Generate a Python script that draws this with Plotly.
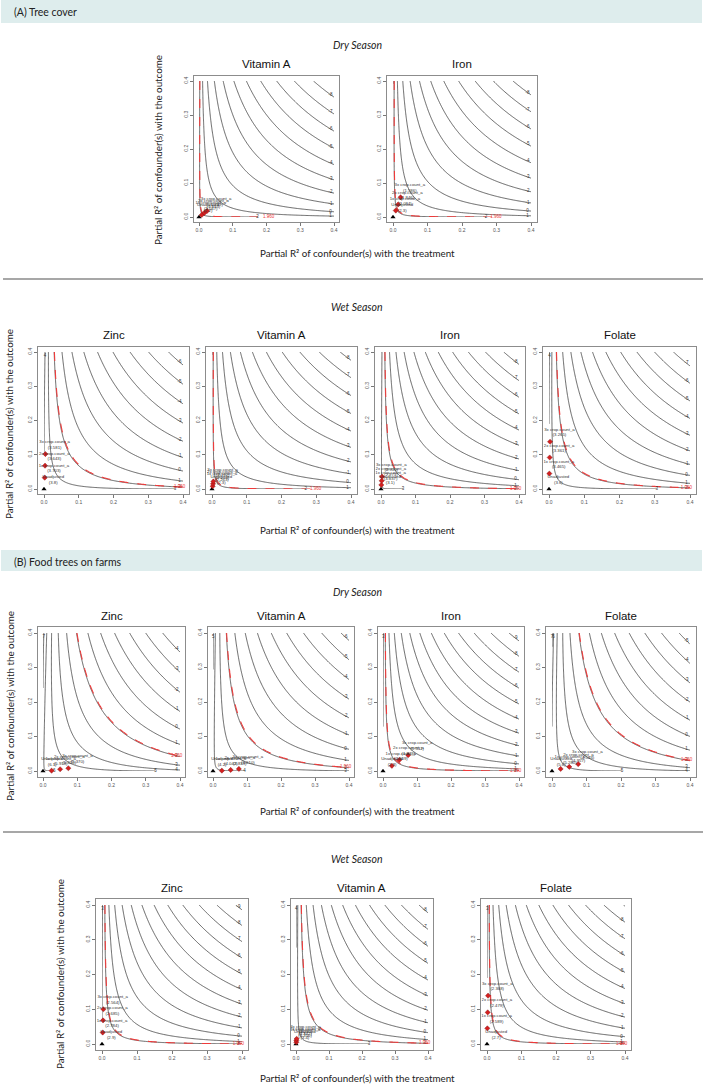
import numpy as np
import plotly.graph_objects as go

W, H = 706, 1087

# ---- data ----
titles = ["Vitamin A", "Iron",
          "Zinc", "Vitamin A", "Iron", "Folate",
          "Zinc", "Vitamin A", "Iron", "Folate",
          "Zinc", "Vitamin A", "Folate"]
# unadjusted t-value and residual degrees of freedom of each model
t_unadj = [2.2, 2.34, 3.8, 2.34, 3.1, 3.6, 6.1, 4.2, 2.8, 5.6, 2.9, 3.4, 2.7]
dof = [470, 470, 413, 440, 530, 490, 460, 421, 570, 470, 560, 530, 520]
unadj_text = ["2.2", "2.3", "3.8", "2.3", "3.1", "3.6", "6.1", "4.2", "2.8", "5.6", "2.9", "3.4", "2.7"]
t_threshold = 1.96

bound_names = ["1x crop.count_a", "2x crop.count_a", "3x crop.count_a"]
bound_r2dz = [[0.008, 0.016, 0.024], [0.008, 0.015, 0.022],
              [0.002, 0.003, 0.004], [0.002, 0.003, 0.004], [0.001, 0.002, 0.003], [0.001, 0.002, 0.003],
              [0.025, 0.05, 0.074], [0.026, 0.052, 0.076], [0.026, 0.048, 0.074], [0.025, 0.05, 0.076],
              [0.002, 0.003, 0.004], [0.001, 0.001, 0.002], [0.001, 0.002, 0.003]]
bound_r2yz = [[0.006, 0.012, 0.018], [0.019, 0.037, 0.058],
              [0.033, 0.068, 0.102], [0.008, 0.015, 0.022], [0.012, 0.024, 0.036], [0.045, 0.092, 0.138],
              [0.001, 0.005, 0.008], [0.001, 0.003, 0.006], [0.015, 0.032, 0.046], [0.006, 0.012, 0.02],
              [0.033, 0.068, 0.1], [0.005, 0.01, 0.015], [0.045, 0.091, 0.139]]
bound_t = [["2.047", "1.893", "1.739"], ["2.084", "1.846", "1.586"],
           ["3.703", "3.643", "3.581"], ["2.263", "2.213", "2.162"], ["3.037", "2.973", "2.910"],
           ["3.465", "3.361", "3.265"],
           ["5.918", "5.620", "5.370"], ["4.042", "3.839", "3.610"], ["2.309", "1.823", "1.331"],
           ["5.280", "4.957", "4.584"],
           ["2.784", "2.685", "2.564"], ["3.356", "3.342", "3.295"], ["2.589", "2.479", "2.368"]]
tick_vals = [0, 0.1, 0.2, 0.3, 0.4]
tick_text = ["0.0", "0.1", "0.2", "0.3", "0.4"]

# ---- layout: pixel position of r2=0 and r2=0.4 on each panel (x0, x04, y0, y04) ----
panel_px = [(199, 334, 217, 81), (393, 531, 217, 81),
            (44, 183, 489, 352), (212, 351, 489, 352), (381, 519, 489, 352), (549, 690, 489, 352),
            (43, 180, 771, 633), (213, 349, 771, 633), (383, 519, 771, 633), (552, 690, 771, 633),
            (102, 242, 1044, 905), (296, 428, 1044, 905), (487, 625, 1044, 905)]

LIM = 0.4
PAD = 0.016
BUMP = LIM / 15
grid = np.unique(np.concatenate([np.linspace(0, 0.02, 41), np.linspace(0.02, 0.4, 153)]))


def t_adj(t0, df, r2dz, r2yz):
    bias = np.sqrt(df * r2yz * r2dz / (1 - r2dz))
    return (t0 - bias) / np.sqrt((1 - r2yz) / (1 - r2dz))


def level_end(t0, df, level):
    s = np.linspace(0, 0.4, 801)
    edges = [(np.full_like(s, 0.39), s), (s, np.zeros_like(s)), (s, np.full_like(s, 0.39))]
    for ex, ey in edges:
        d = t_adj(t0, df, ex, ey) - level
        idx = np.where(np.sign(d[:-1]) != np.sign(d[1:]))[0]
        if len(idx):
            i = idx[-1]
            f = d[i] / (d[i] - d[i + 1])
            return ex[i] + f * (ex[i + 1] - ex[i]), ey[i] + f * (ey[i + 1] - ey[i])
    return None


def note(text, px, py, size, family="Lato", angle=0, xanchor="center", color="#222"):
    return dict(text=text, x=px / W, y=1 - py / H, xref="paper", yref="paper", showarrow=False,
                xanchor=xanchor, yanchor="middle", textangle=angle,
                font=dict(family=family, size=size, color=color))


fig = go.Figure()
layout = dict(width=W, height=H, margin=dict(l=0, r=0, t=0, b=0),
              paper_bgcolor="white", plot_bgcolor="white", showlegend=False)
annotations = []
shapes = []

for i, (x0, x04, y0, y04) in enumerate(panel_px):
    k = i + 1
    xa, ya = f"x{k}", f"y{k}"
    t0, df = t_unadj[i], dof[i]
    X, Y = np.meshgrid(grid, grid)
    z = np.round(t_adj(t0, df, X, Y), 3)

    fig.add_trace(go.Contour(x=grid, y=grid, z=z, xaxis=xa, yaxis=ya, showscale=False,
                             autocontour=False,
                             contours=dict(coloring="lines", start=-30, end=30, size=1),
                             colorscale=[[0, "#3c3c3c"], [1, "#3c3c3c"]],
                             line=dict(width=0.8), hoverinfo="skip"))
    fig.add_trace(go.Contour(x=grid, y=grid, z=z, xaxis=xa, yaxis=ya, showscale=False,
                             autocontour=False,
                             contours=dict(coloring="lines", start=t_threshold, end=t_threshold + 0.5, size=1),
                             colorscale=[[0, "#ee3b3b"], [1, "#ee3b3b"]],
                             line=dict(width=1.1, dash="dash"), hoverinfo="skip"))

    # contour labels at the line ends
    lx, ly, lt = [], [], []
    for lev in range(int(np.floor(z.min())), int(np.ceil(z.max())) + 1):
        p = level_end(t0, df, lev)
        if p:
            lx.append(p[0]); ly.append(p[1]); lt.append(str(lev))
    fig.add_trace(go.Scatter(x=lx, y=ly, text=lt, mode="text", xaxis=xa, yaxis=ya,
                             textfont=dict(size=4.5, color="#333", family="Liberation Sans"),
                             hoverinfo="skip"))
    p = level_end(t0, df, t_threshold)
    if p:
        fig.add_trace(go.Scatter(x=[p[0]], y=[p[1]], text=[f"{t_threshold:.3f}"], mode="text",
                                 xaxis=xa, yaxis=ya,
                                 textfont=dict(size=4.5, color="#ee3b3b", family="Liberation Sans"),
                                 hoverinfo="skip"))

    # unadjusted point and bounds
    fig.add_trace(go.Scatter(x=[0], y=[0], mode="markers", xaxis=xa, yaxis=ya,
                             marker=dict(symbol="triangle-up", size=4.5, color="black"), hoverinfo="skip"))
    fig.add_trace(go.Scatter(x=bound_r2dz[i], y=bound_r2yz[i], mode="markers", xaxis=xa, yaxis=ya,
                             marker=dict(symbol="diamond", size=4, color="#d42020",
                                         line=dict(color="#7a1010", width=0.4)),
                             hoverinfo="skip"))
    txt_x = [0 + BUMP] + [v + BUMP for v in bound_r2dz[i]]
    txt_y = [0 + BUMP] + [v + BUMP for v in bound_r2yz[i]]
    txt = [f"Unadjusted<br>({unadj_text[i]})"] + [f"{n}<br>({v})" for n, v in zip(bound_names, bound_t[i])]
    fig.add_trace(go.Scatter(x=txt_x, y=txt_y, text=txt, mode="text", xaxis=xa, yaxis=ya,
                             textfont=dict(size=4.3, color="#333", family="Liberation Sans"),
                             hoverinfo="skip"))

    # axes
    kx = (x04 - x0) / LIM
    ky = (y0 - y04) / LIM
    dom_x = [(x0 - PAD * kx) / W, (x04 + PAD * kx) / W]
    dom_y = [1 - (y0 + PAD * ky) / H, 1 - (y04 - PAD * ky) / H]
    common = dict(range=[-PAD, LIM + PAD], showgrid=False, zeroline=False, showline=True, mirror=True,
                  linecolor="#8c8c8c", linewidth=1, ticks="outside", ticklen=3, tickwidth=0.6,
                  tickcolor="#777", tickvals=tick_vals, ticktext=tick_text,
                  tickfont=dict(size=5, color="#555", family="Liberation Sans"))
    layout[f"xaxis{k}"] = dict(domain=dom_x, anchor=ya, **common)
    layout[f"yaxis{k}"] = dict(domain=dom_y, anchor=xa, tickangle=-90, **common)

    annotations.append(note(titles[i], (x0 + x04) / 2, y04 - 17, 11.5, family="Liberation Sans", color="#111"))

# ---- section headers, season labels, axis titles ----
for ytop, ybot, label in [(0, 23, "(A) Tree cover"), (550, 571, "(B) Food trees on farms")]:
    shapes.append(dict(type="rect", xref="paper", yref="paper", x0=1 / W, x1=702 / W,
                       y0=1 - ybot / H, y1=1 - ytop / H, fillcolor="#deeded", line=dict(width=0), layer="below"))
    annotations.append(note(label, 12, (ytop + ybot) / 2 + 1, 10.5, xanchor="left"))

for yl in [279, 832]:
    shapes.append(dict(type="line", xref="paper", yref="paper", x0=3 / W, x1=703 / W,
                       y0=1 - yl / H, y1=1 - yl / H, line=dict(color="#8a8a8a", width=1.6)))

for yl, label in [(45, "Dry Season"), (307, "Wet Season"), (592, "Dry Season"), (859, "Wet Season")]:
    annotations.append(note(f"<i>{label}</i>", 357, yl, 10.5))

for yl in [253, 530, 811, 1078]:
    annotations.append(note("Partial R² of confounder(s) with the treatment", 358, yl, 9.8))

for xl, yl in [(158, 150), (9, 424), (10, 706), (60, 974)]:
    annotations.append(note("Partial R² of confounder(s) with the outcome", xl, yl, 9.8, angle=-90))

layout["annotations"] = annotations
layout["shapes"] = shapes
fig.update_layout(**layout)
# the page's default body margin would push the figure 8 px down and right
fig.write_html("out.html", config={"displayModeBar": False},
               post_script="document.body.style.margin='0';")
